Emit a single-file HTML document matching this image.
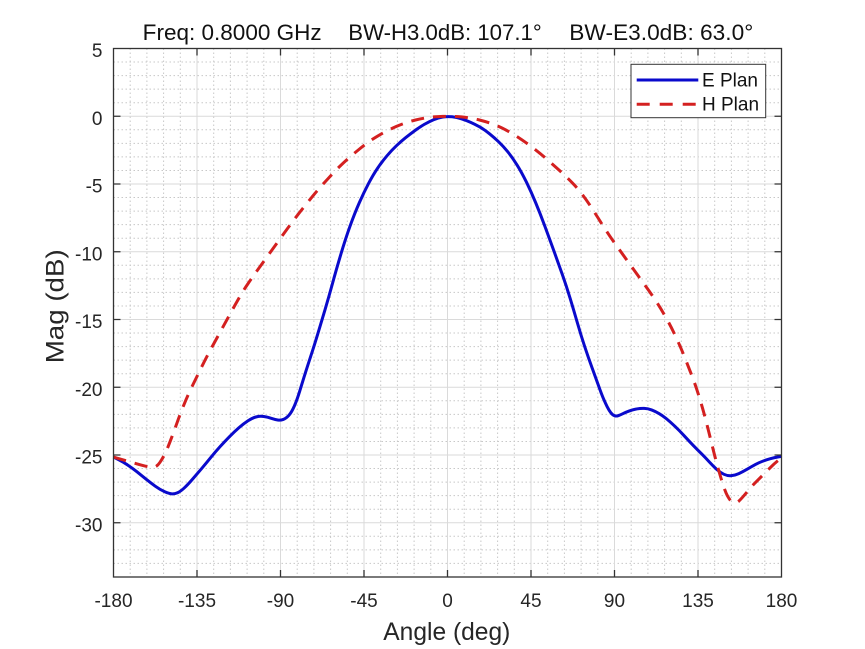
<!DOCTYPE html>
<html>
<head>
<meta charset="utf-8">
<style>
html,body{margin:0;padding:0;background:#fff;}
svg{display:block;}
text{font-family:"Liberation Sans",Arial,sans-serif;}
</style>
</head>
<body>
<svg width="865" height="649" viewBox="0 0 865 649" xmlns="http://www.w3.org/2000/svg">
<rect x="0" y="0" width="865" height="649" fill="#fff"/>
<path fill="none" stroke="#c8c8c8" stroke-width="1" stroke-dasharray="1.5 2.5" d="M130.2 48.5V577M146.9 48.5V577M163.6 48.5V577M180.3 48.5V577M213.7 48.5V577M230.4 48.5V577M247.1 48.5V577M263.8 48.5V577M297.2 48.5V577M313.9 48.5V577M330.6 48.5V577M347.3 48.5V577M380.7 48.5V577M397.4 48.5V577M414.1 48.5V577M430.8 48.5V577M464.2 48.5V577M480.9 48.5V577M497.6 48.5V577M514.3 48.5V577M547.7 48.5V577M564.4 48.5V577M581.1 48.5V577M597.8 48.5V577M631.2 48.5V577M647.9 48.5V577M664.6 48.5V577M681.3 48.5V577M714.7 48.5V577M731.4 48.5V577M748.1 48.5V577M764.8 48.5V577M113.5 62.05H781.5M113.5 75.6H781.5M113.5 89.15H781.5M113.5 102.7H781.5M113.5 129.8H781.5M113.5 143.35H781.5M113.5 156.9H781.5M113.5 170.45H781.5M113.5 197.55H781.5M113.5 211.1H781.5M113.5 224.65H781.5M113.5 238.2H781.5M113.5 265.3H781.5M113.5 278.85H781.5M113.5 292.4H781.5M113.5 305.95H781.5M113.5 333.05H781.5M113.5 346.6H781.5M113.5 360.15H781.5M113.5 373.7H781.5M113.5 400.8H781.5M113.5 414.35H781.5M113.5 427.9H781.5M113.5 441.45H781.5M113.5 468.55H781.5M113.5 482.1H781.5M113.5 495.65H781.5M113.5 509.2H781.5M113.5 536.3H781.5M113.5 549.85H781.5M113.5 563.4H781.5"/>
<path fill="none" stroke="#dadada" stroke-width="1" d="M197 48.5V577M280.5 48.5V577M364 48.5V577M447.5 48.5V577M531 48.5V577M614.5 48.5V577M698 48.5V577M113.5 116.25H781.5M113.5 184H781.5M113.5 251.75H781.5M113.5 319.5H781.5M113.5 387.25H781.5M113.5 455H781.5M113.5 522.75H781.5"/>
<g transform="matrix(1.8556 0 0 -13.55 447.5 116.25)">
<path fill="none" stroke="#0a0acc" stroke-width="3" vector-effect="non-scaling-stroke" stroke-linejoin="round" d="M-180 -25.15L-177.5 -25.325Q-175 -25.5 -172.5 -25.725Q-170 -25.95 -167.5 -26.225Q-165 -26.5 -162.5 -26.775Q-160 -27.05 -157.5 -27.3Q-155 -27.55 -152.5 -27.7Q-150 -27.85 -148.5 -27.865Q-147 -27.88 -145.5 -27.79Q-144 -27.7 -142 -27.45Q-140 -27.2 -137.5 -26.8Q-135 -26.4 -132.5 -26Q-130 -25.6 -127.5 -25.175Q-125 -24.75 -122.5 -24.375Q-120 -24 -117.5 -23.65Q-115 -23.3 -112.5 -23Q-110 -22.7 -107.5 -22.475Q-105 -22.25 -103 -22.185Q-101 -22.12 -99 -22.16Q-97 -22.2 -95 -22.29Q-93 -22.38 -91.5 -22.415Q-90 -22.45 -88.5 -22.375Q-87 -22.3 -85.5 -22.075Q-84 -21.85 -82.5 -21.375Q-81 -20.9 -79.5 -20.225Q-78 -19.55 -76.5 -18.9Q-75 -18.25 -73.5 -17.625Q-72 -17 -70 -16.1Q-68 -15.2 -66 -14.275Q-64 -13.35 -62 -12.35Q-60 -11.35 -57.5 -10.2Q-55 -9.05 -52.5 -8.1Q-50 -7.15 -47.5 -6.375Q-45 -5.6 -42.5 -4.95Q-40 -4.3 -37.5 -3.8Q-35 -3.3 -32.5 -2.9Q-30 -2.5 -27.5 -2.175Q-25 -1.85 -22.5 -1.575Q-20 -1.3 -17.5 -1.05Q-15 -0.8 -12.5 -0.6Q-10 -0.4 -7.5 -0.255Q-5 -0.11 -2.5 -0.055Q0 0 2.5 -0.04Q5 -0.08 7.5 -0.19Q10 -0.3 12.5 -0.45Q15 -0.6 17.5 -0.8Q20 -1 22.5 -1.275Q25 -1.55 27.5 -1.875Q30 -2.2 32.5 -2.625Q35 -3.05 37.5 -3.6Q40 -4.15 42.5 -4.85Q45 -5.55 47.5 -6.375Q50 -7.2 52.5 -8.125Q55 -9.05 57.5 -10Q60 -10.95 62 -11.725Q64 -12.5 66 -13.4Q68 -14.3 70 -15.25Q72 -16.2 74 -17.025Q76 -17.85 78 -18.6Q80 -19.35 81.5 -19.925Q83 -20.5 84 -20.825Q85 -21.15 86 -21.425Q87 -21.7 88 -21.875Q89 -22.05 90 -22.1Q91 -22.15 92 -22.1Q93 -22.05 94.5 -21.95Q96 -21.85 98 -21.75Q100 -21.65 102 -21.6Q104 -21.55 106 -21.56Q108 -21.57 110 -21.675Q112 -21.78 114 -21.94Q116 -22.1 118 -22.325Q120 -22.55 122.5 -22.875Q125 -23.2 127.5 -23.575Q130 -23.95 132.5 -24.3Q135 -24.65 137 -24.925Q139 -25.2 141 -25.5Q143 -25.8 145 -26.05Q147 -26.3 149 -26.425Q151 -26.55 153 -26.525Q155 -26.5 157 -26.375Q159 -26.25 161.5 -26.05Q164 -25.85 166 -25.7Q168 -25.55 170 -25.45Q172 -25.35 174 -25.275Q176 -25.2 178 -25.15L180 -25.1"/>
<path fill="none" stroke="#d42020" stroke-width="3" vector-effect="non-scaling-stroke" stroke-dasharray="13 9" stroke-linejoin="round" d="M-180 -25.15L-177.5 -25.25Q-175 -25.35 -172.5 -25.45Q-170 -25.55 -167.5 -25.65Q-165 -25.75 -163 -25.815Q-161 -25.88 -159.5 -25.9Q-158 -25.92 -157 -25.835Q-156 -25.75 -155 -25.55Q-154 -25.35 -153 -25.1Q-152 -24.85 -151 -24.525Q-150 -24.2 -148.5 -23.65Q-147 -23.1 -145.5 -22.525Q-144 -21.95 -142 -21.275Q-140 -20.6 -137.5 -19.9Q-135 -19.2 -132.5 -18.5Q-130 -17.8 -127.5 -17.175Q-125 -16.55 -122.5 -15.925Q-120 -15.3 -117.5 -14.675Q-115 -14.05 -112.5 -13.45Q-110 -12.85 -107.5 -12.35Q-105 -11.85 -102.5 -11.375Q-100 -10.9 -97.5 -10.425Q-95 -9.95 -92.5 -9.475Q-90 -9 -87.5 -8.525Q-85 -8.05 -82.5 -7.6Q-80 -7.15 -77.5 -6.725Q-75 -6.3 -72.5 -5.875Q-70 -5.45 -67.5 -5.075Q-65 -4.7 -62.5 -4.325Q-60 -3.95 -57.5 -3.625Q-55 -3.3 -52.5 -3Q-50 -2.7 -47.5 -2.425Q-45 -2.15 -42.5 -1.9Q-40 -1.65 -37.5 -1.45Q-35 -1.25 -32.5 -1.075Q-30 -0.9 -27.5 -0.75Q-25 -0.6 -22.5 -0.485Q-20 -0.37 -17.5 -0.285Q-15 -0.2 -12.5 -0.14Q-10 -0.08 -7.5 -0.05Q-5 -0.02 -2.5 -0.01Q0 0 2.5 -0.01Q5 -0.02 7.5 -0.05Q10 -0.08 12.5 -0.14Q15 -0.2 17.5 -0.285Q20 -0.37 22.5 -0.485Q25 -0.6 27.5 -0.75Q30 -0.9 32.5 -1.09Q35 -1.28 37.5 -1.5Q40 -1.72 42.5 -1.97Q45 -2.22 47.5 -2.485Q50 -2.75 52.5 -3.05Q55 -3.35 57.5 -3.65Q60 -3.95 62.5 -4.275Q65 -4.6 67.5 -4.95Q70 -5.3 72.5 -5.75Q75 -6.2 77.5 -6.725Q80 -7.25 82.5 -7.8Q85 -8.35 87.5 -8.85Q90 -9.35 92.5 -9.825Q95 -10.3 97.5 -10.775Q100 -11.25 102.5 -11.725Q105 -12.2 107.5 -12.675Q110 -13.15 112.5 -13.675Q115 -14.2 117.5 -14.8Q120 -15.4 122 -15.975Q124 -16.55 125.5 -17.025Q127 -17.5 128.5 -18.025Q130 -18.55 131.5 -19.075Q133 -19.6 134.5 -20.225Q136 -20.85 137.5 -21.575Q139 -22.3 140.5 -23.125Q142 -23.95 143.5 -24.775Q145 -25.6 146.5 -26.3Q148 -27 149 -27.4Q150 -27.8 151 -28.05Q152 -28.3 153 -28.425Q154 -28.55 155 -28.535Q156 -28.52 157 -28.4Q158 -28.28 159.5 -28.04Q161 -27.8 162.5 -27.55Q164 -27.3 166 -27.025Q168 -26.75 170 -26.475Q172 -26.2 174 -25.925Q176 -25.65 178 -25.425L180 -25.2"/>
</g>
<rect x="113.5" y="48.5" width="668" height="528.5" fill="none" stroke="#333" stroke-width="1.3"/>
<path fill="none" stroke="#333" stroke-width="1.3" d="M197 577V570M280.5 577V570M364 577V570M447.5 577V570M531 577V570M614.5 577V570M698 577V570M197 48.5V55.5M280.5 48.5V55.5M364 48.5V55.5M447.5 48.5V55.5M531 48.5V55.5M614.5 48.5V55.5M698 48.5V55.5M113.5 116.25H120.5M113.5 184H120.5M113.5 251.75H120.5M113.5 319.5H120.5M113.5 387.25H120.5M113.5 455H120.5M113.5 522.75H120.5M781.5 116.25H774.5M781.5 184H774.5M781.5 251.75H774.5M781.5 319.5H774.5M781.5 387.25H774.5M781.5 455H774.5M781.5 522.75H774.5"/>
<g font-size="19" fill="#262626" text-anchor="middle">
<text x="113.5" y="607">-180</text>
<text x="197" y="607">-135</text>
<text x="280.5" y="607">-90</text>
<text x="364" y="607">-45</text>
<text x="447.5" y="607">0</text>
<text x="531" y="607">45</text>
<text x="614.5" y="607">90</text>
<text x="698" y="607">135</text>
<text x="781.5" y="607">180</text>
</g>
<g font-size="19" fill="#262626" text-anchor="end">
<text x="102.5" y="57">5</text>
<text x="102.5" y="124.75">0</text>
<text x="102.5" y="192.5">-5</text>
<text x="102.5" y="260.25">-10</text>
<text x="102.5" y="328">-15</text>
<text x="102.5" y="395.75">-20</text>
<text x="102.5" y="463.5">-25</text>
<text x="102.5" y="531.25">-30</text>
</g>
<text x="383.3" y="640" font-size="25" fill="#262626" textLength="127" lengthAdjust="spacingAndGlyphs">Angle (deg)</text>
<text transform="translate(63.3 363.3) rotate(-90)" font-size="25" fill="#262626" textLength="114" lengthAdjust="spacingAndGlyphs">Mag (dB)</text>
<g font-size="22" fill="#111">
<text x="142.7" y="40" textLength="179" lengthAdjust="spacingAndGlyphs">Freq: 0.8000 GHz</text>
<text x="348.3" y="40" textLength="193.4" lengthAdjust="spacingAndGlyphs">BW-H3.0dB: 107.1°</text>
<text x="569.3" y="40" textLength="184" lengthAdjust="spacingAndGlyphs">BW-E3.0dB: 63.0°</text>
</g>
<rect x="631" y="64.3" width="134.7" height="53.4" fill="#fff" stroke="#333" stroke-width="1"/>
<line x1="636.7" y1="80" x2="698.3" y2="80" stroke="#0a0acc" stroke-width="3"/>
<line x1="636.7" y1="104.3" x2="698.3" y2="104.3" stroke="#d42020" stroke-width="3" stroke-dasharray="13 10"/>
<g font-size="19" fill="#111">
<text x="702" y="86.7">E Plan</text>
<text x="702" y="110.7">H Plan</text>
</g>
</svg>
</body>
</html>
